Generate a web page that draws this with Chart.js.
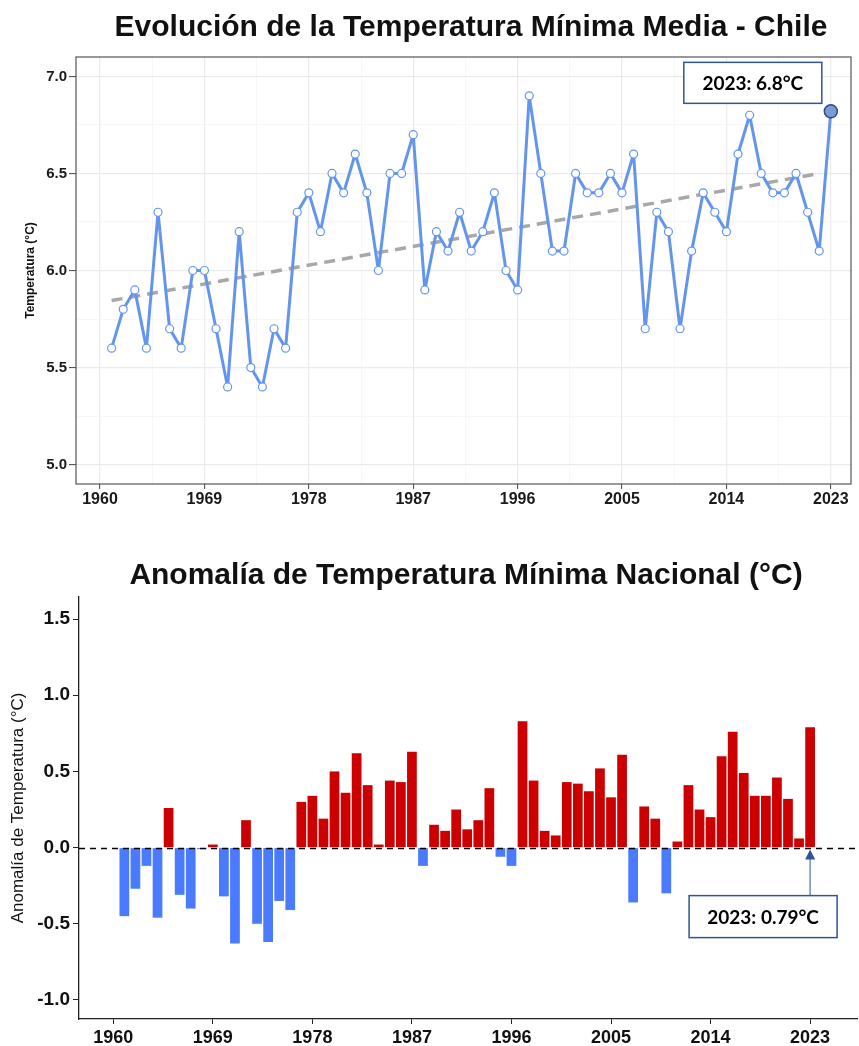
<!DOCTYPE html>
<html>
<head>
<meta charset="utf-8">
<script src="https://cdn.jsdelivr.net/npm/chart.js@4.4.0/dist/chart.umd.min.js"></script>
<style>
  html, body { margin: 0; padding: 0; background: #fff; }
  #wrap { position: relative; width: 859px; height: 1046px; }
  .panel { position: absolute; left: 0; }
</style>
</head>
<body>
<div id="wrap">
  <canvas id="tempChart" class="panel" style="top:0" width="859" height="540"></canvas>
  <canvas id="anomChart" class="panel" style="top:540px" width="859" height="506"></canvas>
</div>
<script>
// Years of the series
const years = [
  1961, 1962, 1963, 1964, 1965, 1966, 1967, 1968, 1969, 1970,
  1971, 1972, 1973, 1974, 1975, 1976, 1977, 1978, 1979, 1980,
  1981, 1982, 1983, 1984, 1985, 1986, 1987, 1988, 1989, 1990,
  1991, 1992, 1993, 1994, 1995, 1996, 1997, 1998, 1999, 2000,
  2001, 2002, 2003, 2004, 2005, 2006, 2007, 2008, 2009, 2010,
  2011, 2012, 2013, 2014, 2015, 2016, 2017, 2018, 2019, 2020,
  2021, 2022, 2023
];

// Mean minimum temperature (°C)
const tempMin = [
  5.6, 5.8, 5.9, 5.6, 6.3, 5.7, 5.6, 6.0, 6.0, 5.7,
  5.4, 6.2, 5.5, 5.4, 5.7, 5.6, 6.3, 6.4, 6.2, 6.5,
  6.4, 6.6, 6.4, 6.0, 6.5, 6.5, 6.7, 5.9, 6.2, 6.1,
  6.3, 6.1, 6.2, 6.4, 6.0, 5.9, 6.9, 6.5, 6.1, 6.1,
  6.5, 6.4, 6.4, 6.5, 6.4, 6.6, 5.7, 6.3, 6.2, 5.7,
  6.1, 6.4, 6.3, 6.2, 6.6, 6.8, 6.5, 6.4, 6.4, 6.5,
  6.3, 6.1, 6.82
];

// Dashed trend line end points
const trendYears = [1961, 2022];
const trendValues = [5.845, 6.50];

// National minimum temperature anomaly (°C)
const anomaly = [
  -0.45, -0.27, -0.12, -0.46, 0.26, -0.31, -0.40, -0.01, 0.02, -0.32,
  -0.63, 0.18, -0.50, -0.62, -0.35, -0.41, 0.30, 0.34, 0.19, 0.50,
  0.36, 0.62, 0.41, 0.02, 0.44, 0.43, 0.63, -0.12, 0.15, 0.11,
  0.25, 0.12, 0.18, 0.39, -0.06, -0.12, 0.83, 0.44, 0.11, 0.08,
  0.43, 0.42, 0.37, 0.52, 0.33, 0.61, -0.36, 0.27, 0.19, -0.30,
  0.04, 0.41, 0.25, 0.20, 0.60, 0.76, 0.49, 0.34, 0.34, 0.46,
  0.32, 0.06, 0.79
];

// Tick labels
const yearTicks = [1960, 1969, 1978, 1987, 1996, 2005, 2014, 2023];
const tempTicks = [5.0, 5.5, 6.0, 6.5, 7.0];
const anomTicks = [-1.0, -0.5, 0.0, 0.5, 1.0, 1.5];

const TITLE_FONT = "'Liberation Sans', Arial, sans-serif";
const BOX_FONT = "Lato, 'Open Sans', sans-serif";

// major ticks plus the midpoints between them (for the minor grid)
function withMinor(major) {
  const out = [];
  major.forEach((v, i) => {
    out.push({ value: v });
    if (i < major.length - 1) out.push({ value: (v + major[i + 1]) / 2 });
  });
  return out;
}
const isMajor = (list, v) => list.some(m => Math.abs(m - v) < 1e-6);

// centred chart title, ggplot style (centred on the panel, not the canvas)
function panelTitle(text, x, y) {
  return {
    id: 'panelTitle',
    afterDraw(chart) {
      const ctx = chart.ctx;
      ctx.save();
      ctx.fillStyle = '#111';
      ctx.font = 'bold 30px ' + TITLE_FONT;
      ctx.textAlign = 'center';
      ctx.textBaseline = 'alphabetic';
      ctx.fillText(text, x, y);
      ctx.restore();
    }
  };
}

// Top chart: line + trend
const frameBorder = {
  id: 'frameBorder',
  afterDraw(chart) {
    const { ctx, chartArea: a } = chart;
    ctx.save();
    ctx.strokeStyle = '#555';
    ctx.lineWidth = 1.2;
    ctx.strokeRect(a.left, a.top, a.right - a.left, a.bottom - a.top);
    ctx.restore();
  }
};

const lastTempLabel = {
  id: 'lastTempLabel',
  afterDraw(chart) {
    const { ctx } = chart;
    const meta = chart.getDatasetMeta(1);
    const pt = meta.data[meta.data.length - 1];
    const w = 138, h = 41;
    const bx = pt.x - 9 - w, by = pt.y - 8 - h;
    ctx.save();
    ctx.fillStyle = '#fff';
    ctx.fillRect(bx, by, w, h);
    ctx.strokeStyle = '#2f5597';
    ctx.lineWidth = 1.5;
    ctx.strokeRect(bx, by, w, h);
    ctx.fillStyle = '#000';
    ctx.font = "bold 19px " + BOX_FONT;
    ctx.textAlign = 'center';
    ctx.textBaseline = 'middle';
    ctx.fillText('2023: ' + tempMin[tempMin.length - 1].toFixed(1) + '°C', bx + w / 2, by + h / 2 + 1);
    ctx.restore();
  }
};

const tempCtx = document.getElementById('tempChart').getContext('2d');
new Chart(tempCtx, {
  type: 'line',
  data: {
    datasets: [{
      label: 'Tendencia',
      data: trendYears.map((x, i) => ({ x: x, y: trendValues[i] })),
      borderColor: '#a8a8a8',
      borderWidth: 3.5,
      borderDash: [11, 7],
      pointRadius: 0,
      order: 2
    }, {
      label: 'Temperatura mínima media',
      data: years.map((x, i) => ({ x: x, y: tempMin[i] })),
      borderColor: '#6495ed',
      borderWidth: 3,
      borderJoinStyle: 'round',
      borderCapStyle: 'round',
      pointRadius: c => c.dataIndex === years.length - 1 ? 6.5 : 4,
      pointBackgroundColor: c => c.dataIndex === years.length - 1 ? '#7c9bd6' : '#ffffff',
      pointBorderColor: c => c.dataIndex === years.length - 1 ? '#2c4a86' : '#6495ed',
      pointBorderWidth: c => c.dataIndex === years.length - 1 ? 1.5 : 1.2,
      order: 1
    }]
  },
  options: {
    responsive: false,
    animation: false,
    layout: { padding: { left: 0, right: 8, top: 57, bottom: 0 } },
    plugins: {
      legend: { display: false },
      tooltip: { enabled: false },
      title: { display: false }
    },
    scales: {
      x: {
        type: 'linear',
        min: 1957.93,
        max: 2024.74,
        afterBuildTicks: s => { s.ticks = withMinor(yearTicks); },
        afterFit: s => { s.height = 56; },
        border: { display: false },
        grid: {
          color: c => c.tick && isMajor(yearTicks, c.tick.value) ? '#ebebeb' : '#f4f4f4',
          lineWidth: c => c.tick && isMajor(yearTicks, c.tick.value) ? 1.2 : 0.7,
          tickColor: c => c.tick && isMajor(yearTicks, c.tick.value) ? '#444' : 'rgba(0,0,0,0)',
          tickLength: 5,
          tickWidth: 1
        },
        ticks: {
          autoSkip: false,
          maxRotation: 0,
          padding: 1,
          color: '#1a1a1a',
          font: { family: TITLE_FONT, size: 16, weight: 'bold' },
          callback: v => isMajor(yearTicks, v) ? String(v) : ''
        }
      },
      y: {
        type: 'linear',
        min: 4.9,
        max: 7.1,
        afterBuildTicks: s => { s.ticks = withMinor(tempTicks); },
        afterFit: s => { s.width = 76; },
        border: { display: false },
        grid: {
          color: c => c.tick && isMajor(tempTicks, c.tick.value) ? '#ebebeb' : '#f4f4f4',
          lineWidth: c => c.tick && isMajor(tempTicks, c.tick.value) ? 1.2 : 0.7,
          tickColor: c => c.tick && isMajor(tempTicks, c.tick.value) ? '#444' : 'rgba(0,0,0,0)',
          tickLength: 7,
          tickWidth: 1
        },
        ticks: {
          autoSkip: false,
          padding: 2,
          color: '#1a1a1a',
          font: { family: TITLE_FONT, size: 15, weight: 'bold' },
          callback: v => isMajor(tempTicks, v) ? v.toFixed(1) : ''
        },
        title: {
          display: true,
          text: 'Temperatura (°C)',
          color: '#111',
          font: { family: TITLE_FONT, size: 12, weight: 'bold' },
          padding: { top: 23, bottom: 0 }
        }
      }
    }
  },
  plugins: [frameBorder, lastTempLabel,
    panelTitle('Evolución de la Temperatura Mínima Media - Chile', 471, 36)]
});

// Bottom chart: anomaly bars
const zeroLine = {
  id: 'zeroLine',
  afterDatasetsDraw(chart) {
    const { ctx, chartArea: a, scales } = chart;
    const y0 = Math.round(scales.y.getPixelForValue(0)) + 0.5;
    ctx.save();
    ctx.strokeStyle = '#000';
    ctx.lineWidth = 1.5;
    ctx.setLineDash([6, 5]);
    ctx.beginPath();
    ctx.moveTo(a.left, y0);
    ctx.lineTo(a.right, y0);
    ctx.stroke();
    ctx.restore();
  }
};

const lastAnomLabel = {
  id: 'lastAnomLabel',
  afterDraw(chart) {
    const { ctx, scales } = chart;
    const meta = chart.getDatasetMeta(0);
    const bar = meta.data[meta.data.length - 1];
    const x = bar.x;
    const y0 = scales.y.getPixelForValue(0);
    const w = 148, h = 42;
    const bx = x - 121, by = y0 + 48;
    ctx.save();
    // arrow
    ctx.strokeStyle = '#4f6fa8';
    ctx.lineWidth = 1.2;
    ctx.beginPath();
    ctx.moveTo(x, by);
    ctx.lineTo(x, y0 + 10);
    ctx.stroke();
    ctx.fillStyle = '#2f5597';
    ctx.beginPath();
    ctx.moveTo(x, y0 + 2);
    ctx.lineTo(x - 5, y0 + 12);
    ctx.lineTo(x + 5, y0 + 12);
    ctx.closePath();
    ctx.fill();
    // box
    ctx.fillStyle = '#fff';
    ctx.fillRect(bx, by, w, h);
    ctx.strokeStyle = '#2f5597';
    ctx.lineWidth = 1.5;
    ctx.strokeRect(bx, by, w, h);
    ctx.fillStyle = '#000';
    ctx.font = "bold 19px " + BOX_FONT;
    ctx.textAlign = 'center';
    ctx.textBaseline = 'middle';
    ctx.fillText('2023: ' + anomaly[anomaly.length - 1].toFixed(2) + '°C', bx + w / 2, by + h / 2 + 1);
    ctx.restore();
  }
};

const anomCtx = document.getElementById('anomChart').getContext('2d');
new Chart(anomCtx, {
  type: 'bar',
  data: {
    datasets: [{
      label: 'Anomalía',
      data: years.map((x, i) => ({ x: x, y: anomaly[i] })),
      backgroundColor: c => anomaly[c.dataIndex] >= 0 ? '#cc0000' : '#4a7bff',
      borderWidth: 0,
      barPercentage: 0.88,
      categoryPercentage: 1
    }]
  },
  options: {
    responsive: false,
    animation: false,
    layout: { padding: { left: 0, right: 2, top: 57, bottom: 0 } },
    plugins: {
      legend: { display: false },
      tooltip: { enabled: false },
      title: { display: false }
    },
    scales: {
      x: {
        type: 'linear',
        offset: false,
        min: 1956.9,
        max: 2027.24,
        afterBuildTicks: s => { s.ticks = yearTicks.map(v => ({ value: v })); },
        afterFit: s => { s.height = 27; },
        border: { display: true, color: '#222', width: 1.3 },
        grid: {
          offset: false,
          drawOnChartArea: false,
          tickColor: '#222',
          tickLength: 5,
          tickWidth: 1
        },
        ticks: {
          autoSkip: false,
          maxRotation: 0,
          padding: 3,
          color: '#111',
          font: { family: TITLE_FONT, size: 18, weight: 'bold' },
          callback: v => String(v)
        }
      },
      y: {
        type: 'linear',
        min: -1.125,
        max: 1.645,
        afterBuildTicks: s => { s.ticks = anomTicks.map(v => ({ value: v })); },
        afterFit: s => { s.width = 79; },
        border: { display: true, color: '#222', width: 1.3 },
        grid: {
          drawOnChartArea: false,
          tickColor: '#222',
          tickLength: 6,
          tickWidth: 1
        },
        ticks: {
          autoSkip: false,
          padding: 3,
          color: '#111',
          font: { family: TITLE_FONT, size: 19, weight: 'bold' },
          callback: v => v.toFixed(1)
        },
        title: {
          display: true,
          text: 'Anomalía de Temperatura (°C)',
          color: '#111',
          font: { family: TITLE_FONT, size: 17, weight: 'normal' },
          padding: { top: 8, bottom: 0 }
        }
      }
    }
  },
  plugins: [zeroLine, lastAnomLabel,
    panelTitle('Anomalía de Temperatura Mínima Nacional (°C)', 466, 44)]
});
</script>
</body>
</html>
